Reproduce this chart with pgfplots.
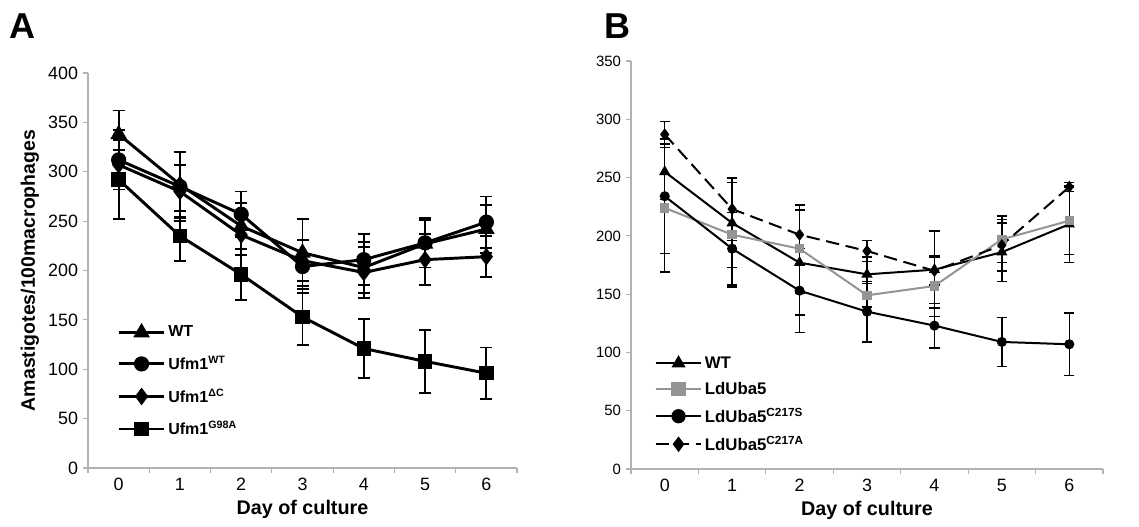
\documentclass[border=0pt]{standalone}
\usepackage{fontspec}
\setmainfont{Liberation Sans}
\usepackage{pgfplots}
\pgfplotsset{compat=1.18}

\pgfplotsset{
  panel/.style={
    scale only axis,
    xmin=-0.5, xmax=6.5, ymin=0,
    axis x line*=bottom, axis y line*=left,
    axis line style={-, black!30, line width=0.8pt},
    every outer x axis line/.append style={-},
    every outer y axis line/.append style={-},
    xtick={0,...,6},
    minor xtick={-0.5,0.5,...,6.5},
    major x tick style={draw=none},
    minor x tick style={black!30, line width=0.8pt},
    major y tick style={black!30, line width=0.8pt},
    tick align=outside,
    major tick length=4pt, minor tick length=4pt,
    /pgf/number format/assume math mode=true,
    xlabel={\bfseries Day of culture},
    xlabel style={font=\fontsize{14.8}{17}\selectfont},
    legend cell align=left,
    legend image code/.code={%
      \draw[mark repeat=2,mark phase=2,##1] plot coordinates {(0pt,0pt) (17pt,0pt) (34pt,0pt)};},
    error bars/y dir=both, error bars/y explicit,
    clip=false,
  },
}

\begin{document}
\begin{tikzpicture}
\useasboundingbox (0,0) rectangle (854.25pt,-394.5pt);

\node[font=\fontsize{27}{30}\selectfont\bfseries] at (16.5pt,-19.5pt) {A};
\node[font=\fontsize{27}{30}\selectfont\bfseries] at (463pt,-19.5pt) {B};

% panel A
\begin{axis}[panel,
  at={(66pt,-351pt)}, anchor=south west,
  width=321.75pt, height=296.25pt,
  ymax=400, ytick={0,50,...,400},
  tick label style={font=\fontsize{13.4}{15}\selectfont},
  ylabel={\bfseries Amastigotes/100macrophages},
  ylabel style={font=\fontsize{14.6}{17}\selectfont},
  legend style={draw=none, fill=none, at={(0.068,0.367)}, anchor=north west,
    font=\fontsize{12}{14}\selectfont\bfseries, row sep=9pt, inner sep=0pt},
  error bars/error bar style={line width=1.4pt, black},
  error bars/error mark options={rotate=90, mark size=4.5pt, line width=1.4pt, black},
]
\addplot[black, line width=2.2pt, mark=triangle*, mark size=5pt] coordinates {
  (0,338) +- (0,24) (1,287) +- (0,33) (2,245) +- (0,23) (3,218) +- (0,34)
  (4,203) +- (0,26) (5,227) +- (0,24) (6,242) +- (0,24)};
\addlegendentry{WT}
\addplot[black, line width=2.2pt, mark=*, mark size=4.6pt] coordinates {
  (0,312) +- (0,30) (1,285) +- (0,35) (2,257) +- (0,23) (3,204) +- (0,27)
  (4,211) +- (0,26) (5,228) +- (0,25) (6,249) +- (0,26)};
\addlegendentry{Ufm1\textsuperscript{WT}}
\addplot[black, line width=2.2pt, mark=diamond*, mark size=4.8pt] coordinates {
  (0,307) +- (0,15) (1,280) +- (0,27) (2,236) +- (0,20) (3,210) +- (0,21)
  (4,198) +- (0,26) (5,211) +- (0,26) (6,214) +- (0,21)};
\addlegendentry{Ufm1\textsuperscript{ΔC}}
\addplot[black, line width=2.2pt, mark=square*, mark size=4.3pt] coordinates {
  (0,292) +- (0,40) (1,235) +- (0,25) (2,196) +- (0,26) (3,153) +- (0,28)
  (4,121) +- (0,30) (5,108) +- (0,32) (6,96) +- (0,26)};
\addlegendentry{Ufm1\textsuperscript{G98A}}
\end{axis}

% panel B
\begin{axis}[panel,
  at={(473.25pt,-351.75pt)}, anchor=south west,
  width=354pt, height=306pt,
  ymax=350, ytick={0,50,...,350},
  tick label style={font=\fontsize{11.2}{13}\selectfont},
  x tick label style={font=\fontsize{13.4}{15}\selectfont},
  legend style={draw=none, fill=none, at={(0.05,0.283)}, anchor=north west,
    font=\fontsize{12.6}{14}\selectfont\bfseries, row sep=5pt, inner sep=0pt},
  legend image code/.code={%
    \draw[mark repeat=2,mark phase=2,#1,mark size=4.6pt] plot coordinates {(0pt,0pt) (17pt,0pt) (34pt,0pt)};},
  error bars/error bar style={line width=1.1pt, black, solid},
  error bars/error mark options={rotate=90, mark size=3.8pt, line width=1.1pt, black, solid},
]
\addplot[black, line width=1.5pt, mark=triangle*, mark size=3.4pt] coordinates {
  (0,255) +- (0,24) (1,211) +- (0,38) (2,177) +- (0,45) (3,167) +- (0,15)
  (4,171) +- (0,33) (5,186) +- (0,25) (6,210) +- (0,33)};
\addlegendentry{WT}
\addplot[black!42, line width=1.5pt, mark=square*, mark size=2.8pt] coordinates {
  (0,224) +- (0,55) (1,201) +- (0,45) (2,189) +- (0,38) (3,149) +- (0,10)
  (4,157) +- (0,26) (5,197) +- (0,20) (6,213) +- (0,29)};
\addlegendentry{LdUba5}
\addplot[black, line width=1.5pt, mark=*, mark size=3pt] coordinates {
  (0,234) +- (0,49) (1,189) +- (0,31) (2,153) +- (0,36) (3,135) +- (0,26)
  (4,123) +- (0,19) (5,109) +- (0,21) (6,107) +- (0,27)};
\addlegendentry{LdUba5\textsuperscript{C217S}}
\addplot[black, line width=1.5pt, dash pattern=on 10pt off 5pt, mark=diamond*, mark size=3.4pt, mark options={solid}] coordinates {
  (0,287) +- (0,11) (1,223) +- (0,27) (2,201) +- (0,25) (3,187) +- (0,9)
  (4,170) +- (0,12) (5,192) +- (0,22) (6,242) +- (0,4)};
\addlegendentry{LdUba5\textsuperscript{C217A}}
\end{axis}
\end{tikzpicture}
\end{document}
